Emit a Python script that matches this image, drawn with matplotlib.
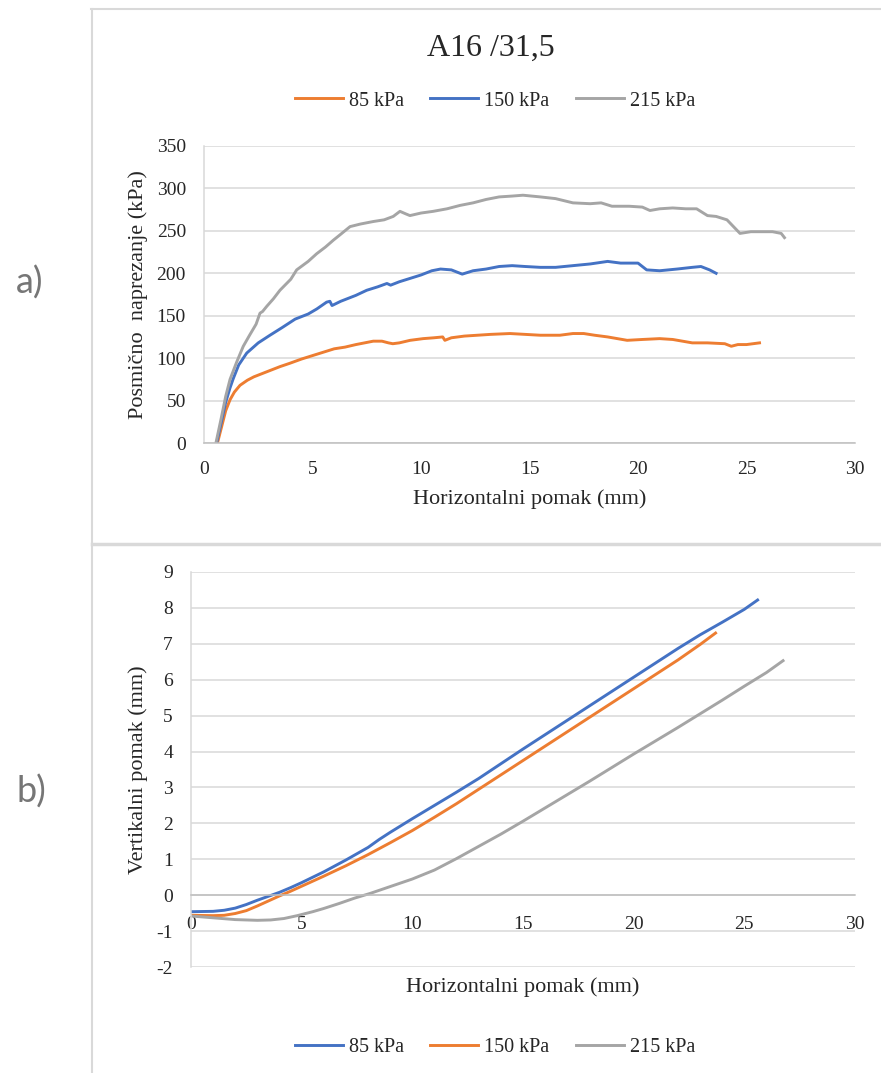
import matplotlib
matplotlib.use("Agg")
import matplotlib.pyplot as plt
from matplotlib.lines import Line2D

# ---- data ----
# a) shear stress vs horizontal displacement
a_x_85 = [0.62, 0.8, 1.0, 1.2, 1.4, 1.66, 2.0, 2.3, 2.7, 3.0, 3.5, 3.96, 4.5, 5.0, 5.5, 6.0,
          6.5, 7.0, 7.4, 7.8, 8.2, 8.5, 8.7, 9.0, 9.5, 10.1, 10.6, 11.0, 11.1, 11.4, 12.0,
          12.6, 13.2, 14.1, 14.8, 15.5, 16.4, 17.0, 17.5, 18.0, 18.6, 19.5, 20.2, 21.0,
          21.6, 22.5, 23.2, 24.0, 24.3, 24.6, 25.0, 25.6]
a_y_85 = [0, 18, 38, 51, 60, 68, 74, 78, 82, 85, 90, 94, 99, 103, 107, 111,
          113, 116, 118, 120, 120, 118, 117, 118, 121, 123, 124, 125, 121, 124, 126,
          127, 128, 129, 128, 127, 127, 129, 129, 127, 125, 121, 122, 123,
          122, 118, 118, 117, 114, 116, 116, 118]

a_x_150 = [0.58, 0.8, 1.0, 1.2, 1.35, 1.6, 1.97, 2.5, 3.04, 3.6, 4.2, 4.8, 5.2, 5.65, 5.8,
           5.9, 6.3, 7.0, 7.5, 8.0, 8.43, 8.6, 9.0, 9.5, 10.0, 10.5, 10.9, 11.4, 11.9, 12.4,
           13.0, 13.6, 14.2, 14.8, 15.5, 16.2, 17.0, 17.8, 18.6, 19.2, 20.0, 20.4, 21.0,
           21.8, 22.5, 22.9, 23.3, 23.6]
a_y_150 = [0, 25, 48, 65, 76, 92, 106, 118, 127, 136, 146, 152, 158, 166, 167,
           162, 167, 174, 180, 184, 188, 186, 190, 194, 198, 203, 205, 204, 199, 203,
           205, 208, 209, 208, 207, 207, 209, 211, 214, 212, 212, 204, 203,
           205, 207, 208, 204, 200]

a_x_215 = [0.55, 0.8, 1.0, 1.2, 1.5, 1.81, 2.1, 2.4, 2.58, 2.7, 2.89, 3.2, 3.5, 4.0, 4.27,
           4.8, 5.19, 5.6, 5.96, 6.3, 6.73, 7.2, 7.8, 8.3, 8.72, 9.03, 9.3, 9.49, 10.0,
           10.56, 11.2, 11.8, 12.4, 13.0, 13.6, 14.2, 14.7, 15.5, 16.2, 17.0, 17.8, 18.3,
           18.8, 19.6, 20.2, 20.55, 21.0, 21.6, 22.2, 22.7, 23.2, 23.6, 24.1, 24.4, 24.7,
           25.2, 25.8, 26.2, 26.6, 26.75]
a_y_215 = [0, 30, 55, 75, 95, 114, 127, 140, 153, 155, 161, 170, 180, 193, 204,
           214, 223, 231, 239, 246, 255, 258, 261, 263, 267, 273, 270, 268, 271,
           273, 276, 280, 283, 287, 290, 291, 292, 290, 288, 283, 282, 283,
           279, 279, 278, 274, 276, 277, 276, 276, 268, 267, 263, 255, 247,
           249, 249, 249, 247, 242]

# b) vertical vs horizontal displacement
b_x_85 = [0, 1, 1.5, 2, 2.5, 3, 3.5, 4, 4.5, 5, 6, 7, 8, 8.5, 9, 10, 11, 12, 13, 14,
          15, 16, 17, 18, 19, 20, 21, 22, 23, 24, 25, 25.6]
b_y_85 = [-0.46, -0.45, -0.42, -0.36, -0.26, -0.14, -0.03, 0.08, 0.21, 0.35, 0.65, 0.98,
          1.33, 1.55, 1.75, 2.13, 2.5, 2.87, 3.25, 3.66, 4.07, 4.47, 4.87, 5.27, 5.67,
          6.07, 6.47, 6.87, 7.25, 7.6, 7.96, 8.22]

b_x_150 = [0, 1, 1.5, 2, 2.5, 3, 3.5, 4, 4.5, 5, 6, 7, 8, 9, 10, 11, 12, 13, 14, 15, 16,
           17, 18, 19, 20, 21, 22, 23, 23.7]
b_y_150 = [-0.56, -0.57, -0.56, -0.51, -0.43, -0.30, -0.16, -0.02, 0.11, 0.25, 0.53, 0.82,
           1.13, 1.46, 1.8, 2.17, 2.55, 2.95, 3.35, 3.75, 4.15, 4.55, 4.95, 5.35, 5.75,
           6.15, 6.55, 6.98, 7.3]

b_x_215 = [0, 1, 2, 3, 3.6, 4.2, 4.8, 5.5, 6, 6.7, 7.4, 8.1, 9, 10, 11, 12, 13, 14, 15,
           16, 17, 18, 19, 20, 21, 22, 23, 24, 25, 26, 26.75]
b_y_215 = [-0.58, -0.63, -0.68, -0.70, -0.69, -0.65, -0.57, -0.46, -0.37, -0.23, -0.08,
           0.05, 0.24, 0.45, 0.7, 1.02, 1.36, 1.7, 2.06, 2.43, 2.8, 3.17, 3.55, 3.93, 4.3,
           4.67, 5.05, 5.43, 5.82, 6.2, 6.53]

legend_a = ["85 kPa", "150 kPa", "215 kPa"]
legend_b = ["85 kPa", "150 kPa", "215 kPa"]
a_yticks = [0, 50, 100, 150, 200, 250, 300, 350]
b_yticks = [-2, -1, 0, 1, 2, 3, 4, 5, 6, 7, 8, 9]
xticks = [0, 5, 10, 15, 20, 25, 30]

ORANGE = "#ED7D31"
BLUE = "#4472C4"
GRAY = "#A5A5A5"
GRID = "#d9d9d9"
TXT = "#262626"

plt.rcParams["font.family"] = ["Liberation Serif", "DejaVu Serif"]
plt.rcParams["axes.unicode_minus"] = False

W, H = 881, 1073
fig = plt.figure(figsize=(W / 100, H / 100), dpi=100)


def fx(px):
    return px / W


def fy(py):
    return 1 - py / H


# panel frames
for xs, ys, lw in [((91, 881), (9, 9), 1.5), ((92, 92), (9, 1073), 1.5),
                   ((92, 881), (544, 544), 2.5)]:
    fig.add_artist(Line2D([fx(xs[0]), fx(xs[1])], [fy(ys[0]), fy(ys[1])],
                          color=GRID, lw=lw, transform=fig.transFigure))

fig.text(fx(30), fy(283), "a)", fontsize=26, color="#767676", family=["Lato", "DejaVu Sans"],
         ha="center", va="center")
fig.text(fx(31), fy(792), "b)", fontsize=26, color="#767676", family=["Lato", "DejaVu Sans"],
         ha="center", va="center")


def style(ax):
    ax.set_axisbelow(True)
    ax.grid(axis="y", color=GRID, lw=1.1)
    ax.grid(axis="x", visible=False)
    ax.tick_params(length=0, labelsize=14, colors=TXT, pad=13)
    for s in ["top", "right"]:
        ax.spines[s].set_visible(False)
    ax.spines["left"].set_color(GRID)
    ax.spines["left"].set_linewidth(1.1)
    ax.spines["bottom"].set_color("#bfbfbf")
    ax.spines["bottom"].set_linewidth(1.1)


# ---- a) ----
ax1 = fig.add_axes([fx(204), fy(443), fx(855) - fx(204), fy(146) - fy(443)])
style(ax1)
ax1.plot(a_x_85, a_y_85, color=ORANGE, lw=2.1, label=legend_a[0])
ax1.plot(a_x_150, a_y_150, color=BLUE, lw=2.1, label=legend_a[1])
ax1.plot(a_x_215, a_y_215, color=GRAY, lw=2.1, label=legend_a[2])
ax1.set_xlim(0, 30)
ax1.set_ylim(0, 350)
ax1.set_xticks(xticks)
ax1.set_yticks(a_yticks)
ax1.set_xlabel("Horizontalni pomak (mm)", fontsize=16, color=TXT, labelpad=8)
ax1.set_ylabel("Posmično  naprezanje (kPa)", fontsize=16, color=TXT, labelpad=6)
fig.text(fx(491), fy(48), "A16 /31,5", fontsize=23, color=TXT, ha="center", va="center")
ax1.legend(loc="center", bbox_to_anchor=(fx(495), fy(101)), bbox_transform=fig.transFigure,
           ncol=3, frameon=False, fontsize=14.5, handlelength=2.4, columnspacing=1.3,
           handletextpad=0.3, labelcolor=TXT)

# ---- b) ----
ax2 = fig.add_axes([fx(191), fy(967), fx(855) - fx(191), fy(572) - fy(967)])
style(ax2)
ax2.plot(b_x_85, b_y_85, color=BLUE, lw=2.1, label=legend_b[0])
ax2.plot(b_x_150, b_y_150, color=ORANGE, lw=2.1, label=legend_b[1])
ax2.plot(b_x_215, b_y_215, color=GRAY, lw=2.1, label=legend_b[2])
ax2.set_xlim(0, 30)
ax2.set_ylim(-2, 9)
ax2.set_xticks(xticks)
ax2.set_yticks(b_yticks)
ax2.spines["bottom"].set_position(("data", 0))
ax2.tick_params(axis="x", pad=15)
ax2.set_ylabel("Vertikalni pomak (mm)", fontsize=16, color=TXT, labelpad=6)
fig.text(fx(523), fy(987), "Horizontalni pomak (mm)", fontsize=16, color=TXT,
         ha="center", va="center")
ax2.legend(loc="center", bbox_to_anchor=(fx(495), fy(1047)), bbox_transform=fig.transFigure,
           ncol=3, frameon=False, fontsize=14.5, handlelength=2.4, columnspacing=1.3,
           handletextpad=0.3, labelcolor=TXT)

fig.savefig("out.png", dpi=100)
